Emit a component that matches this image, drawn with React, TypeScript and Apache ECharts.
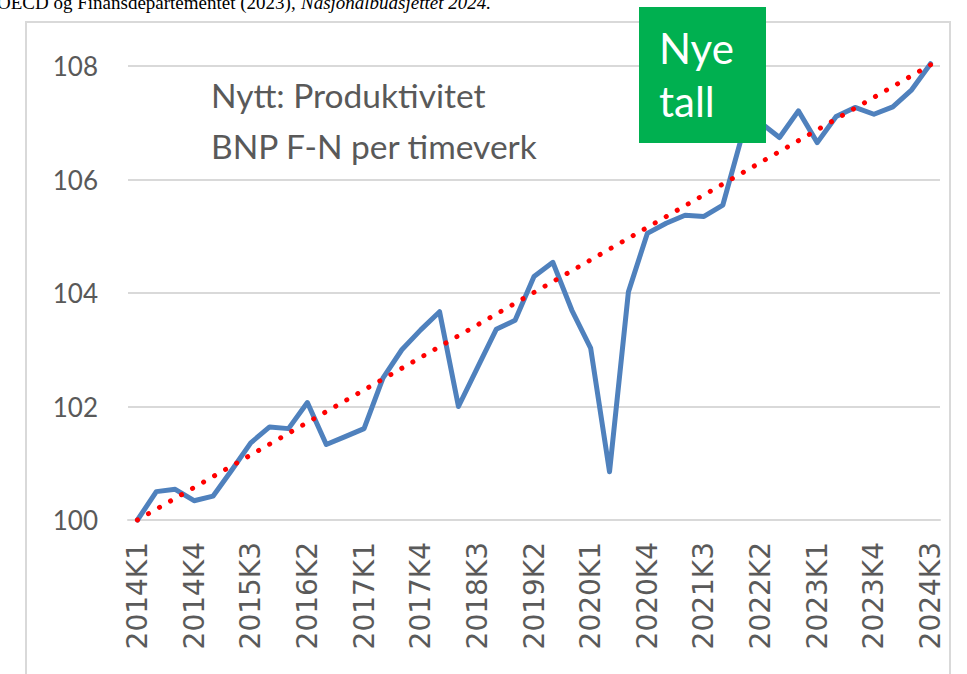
import React, { useEffect, useRef } from "react";
import * as echarts from "echarts";

const categories: string[] = [
  "2014K1", "2014K2", "2014K3", "2014K4",
  "2015K1", "2015K2", "2015K3", "2015K4",
  "2016K1", "2016K2", "2016K3", "2016K4",
  "2017K1", "2017K2", "2017K3", "2017K4",
  "2018K1", "2018K2", "2018K3", "2018K4",
  "2019K1", "2019K2", "2019K3", "2019K4",
  "2020K1", "2020K2", "2020K3", "2020K4",
  "2021K1", "2021K2", "2021K3", "2021K4",
  "2022K1", "2022K2", "2022K3", "2022K4",
  "2023K1", "2023K2", "2023K3", "2023K4",
  "2024K1", "2024K2", "2024K3",
];

const productivity: number[] = [
  100.0, 100.5, 100.54, 100.34, 100.42, 100.88, 101.36, 101.64, 101.61, 102.07,
  101.33, 101.47, 101.61, 102.5, 103.0, 103.35, 103.67, 102.0, 102.68, 103.36,
  103.52, 104.29, 104.54, 103.7, 103.03, 100.85, 104.02, 105.05, 105.23, 105.37,
  105.35, 105.55, 106.75, 107.0, 106.74, 107.21, 106.65, 107.11, 107.27, 107.15,
  107.28, 107.58, 108.04,
];

// linear trend end points
const trendStart = 100.0;
const trendEnd = 108.02;

const yTicks = { min: 100, max: 108, interval: 2 };

const annotationLines = ["Nytt: Produktivitet", "BNP F-N per timeverk"];
const badgeLines = ["Nye", "tall"];
const sourceText = "OECD og Finansdepartementet (2023), ";
const sourceItalic = "Nasjonalbudsjettet 2024.";

export default function App() {
  const ref = useRef<HTMLDivElement>(null);

  useEffect(() => {
    if (!ref.current) return;
    const chart = echarts.init(ref.current, undefined, { renderer: "svg" });

    const trendData: (number | null)[] = categories.map((_, i) =>
      i === 0 ? trendStart : i === categories.length - 1 ? trendEnd : null
    );

    chart.setOption({
      animation: false,
      backgroundColor: "#ffffff",
      grid: { left: 128, right: 27, top: 66, bottom: 154, containLabel: false },
      xAxis: {
        type: "category",
        data: categories,
        boundaryGap: true,
        axisLine: { show: true, lineStyle: { color: "#d9d9d9", width: 2 } },
        axisTick: { show: false },
        axisLabel: {
          interval: 2,
          rotate: 90,
          margin: 22,
          color: "#5a5a5a",
          fontFamily: "DejaVu Sans",
          fontSize: 28,
        },
        splitLine: { show: false },
      },
      yAxis: {
        type: "value",
        min: yTicks.min,
        max: yTicks.max,
        interval: yTicks.interval,
        axisLine: { show: false },
        axisTick: { show: false },
        axisLabel: {
          margin: 30,
          color: "#595959",
          fontFamily: "Lato",
          fontSize: 26,
        },
        splitLine: { show: true, lineStyle: { color: "#d9d9d9", width: 2 } },
      },
      series: [
        {
          type: "line",
          data: productivity,
          symbol: "none",
          clip: false,
          z: 2,
          lineStyle: { color: "#4f81bd", width: 5, join: "round", cap: "round" },
        },
        {
          type: "line",
          data: trendData,
          connectNulls: true,
          symbol: "none",
          clip: false,
          z: 3,
          lineStyle: {
            color: "#ff0000",
            width: 5,
            type: [0.1, 12.6],
            cap: "round",
          },
        },
      ],
      graphic: [
        {
          type: "rect",
          z: 0,
          silent: true,
          shape: { x: 26, y: 22, width: 924, height: 700 },
          style: { fill: "none", stroke: "#d9d9d9", lineWidth: 2 },
        },
        {
          type: "text",
          z: 10,
          x: -3,
          y: 2,
          style: {
            text: sourceText,
            font: "19px 'Liberation Serif', serif",
            fill: "#000000",
            verticalAlign: "middle",
          },
        },
        {
          type: "text",
          z: 10,
          x: 301,
          y: 2,
          style: {
            text: sourceItalic,
            font: "italic 19px 'Liberation Serif', serif",
            fill: "#000000",
            verticalAlign: "middle",
          },
        },
        {
          type: "text",
          z: 10,
          x: 211,
          y: 95,
          style: {
            text: annotationLines[0],
            font: "33.5px Lato",
            fill: "#595959",
            verticalAlign: "middle",
          },
        },
        {
          type: "text",
          z: 10,
          x: 211,
          y: 146,
          style: {
            text: annotationLines[1],
            font: "33.5px Lato",
            fill: "#595959",
            verticalAlign: "middle",
          },
        },
        {
          type: "rect",
          z: 20,
          shape: { x: 639, y: 7, width: 127, height: 136 },
          style: { fill: "#00b050" },
        },
        {
          type: "text",
          z: 21,
          x: 659,
          y: 48,
          style: {
            text: badgeLines[0],
            font: "42px Lato",
            fill: "#ffffff",
            verticalAlign: "middle",
          },
        },
        {
          type: "text",
          z: 21,
          x: 659,
          y: 101,
          style: {
            text: badgeLines[1],
            font: "42px Lato",
            fill: "#ffffff",
            verticalAlign: "middle",
          },
        },
      ],
    });

    return () => chart.dispose();
  }, []);

  return (
    <div
      ref={ref}
      style={{ position: "absolute", left: 0, top: 0, width: 967, height: 674 }}
    />
  );
}
